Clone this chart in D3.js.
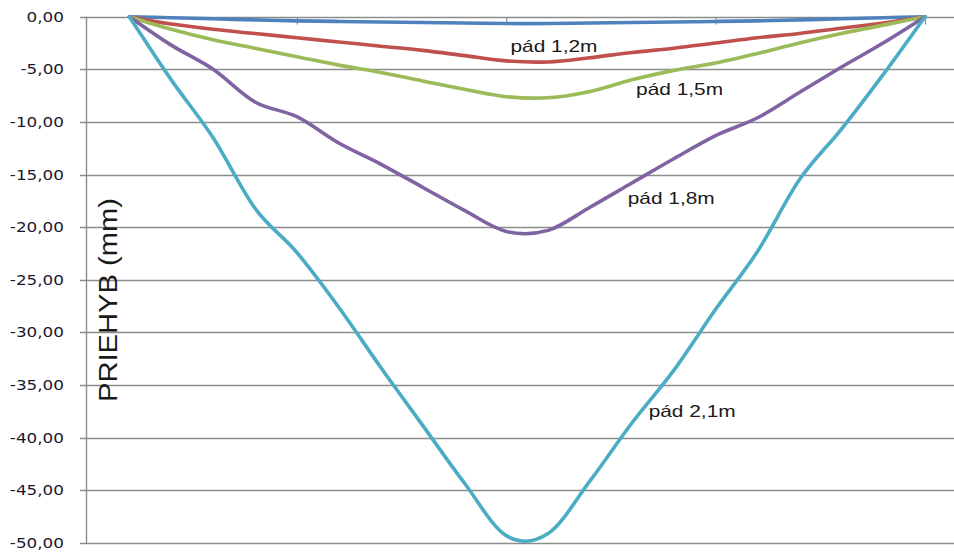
<!DOCTYPE html>
<html>
<head>
<meta charset="utf-8">
<script src="https://cdn.jsdelivr.net/npm/d3@7"></script>
<style>
  html, body { margin: 0; padding: 0; background: #ffffff; }
  svg { display: block; }
</style>
</head>
<body>
<div id="chart"></div>
<script>
// ---- data ----
const positions = d3.range(1, 21); // 20 measuring points along the span
const seriesNames = ["pád 0,9m", "pád 1,2m", "pád 1,5m", "pád 1,8m", "pád 2,1m"];
const seriesBlue   = [0, -0.1, -0.2, -0.3, -0.4, -0.45, -0.5, -0.55, -0.6, -0.65, -0.65, -0.6, -0.55, -0.5, -0.45, -0.4, -0.3, -0.2, -0.1, 0];
const seriesRed    = [0, -0.7, -1.2, -1.6, -2.0, -2.4, -2.8, -3.2, -3.7, -4.2, -4.3, -3.9, -3.4, -3.0, -2.5, -2.0, -1.6, -1.1, -0.6, 0];
const seriesGreen  = [0, -1.2, -2.2, -3.0, -3.8, -4.6, -5.3, -6.1, -6.9, -7.6, -7.7, -7.1, -6.0, -5.1, -4.4, -3.5, -2.5, -1.6, -0.8, 0];
const seriesPurple = [0, -2.7, -5.0, -8.1, -9.5, -12.0, -14.0, -16.2, -18.4, -20.4, -20.3, -18.1, -15.8, -13.5, -11.3, -9.6, -7.2, -4.8, -2.5, 0];
const seriesCyan   = [0, -6.0, -11.5, -18.2, -22.4, -27.6, -33.3, -38.8, -44.3, -49.3, -49.1, -44.1, -38.6, -33.6, -27.8, -22.3, -15.5, -10.7, -5.5, 0];
const yTicks = [0, -5, -10, -15, -20, -25, -30, -35, -40, -45, -50];
const yTickLabels = ["0,00", "-5,00", "-10,00", "-15,00", "-20,00", "-25,00", "-30,00", "-35,00", "-40,00", "-45,00", "-50,00"];
const xTicks = [0, 5, 10, 15, 20];
const yTitle = "PRIEHYB (mm)";
const labelTexts = ["pád 1,2m", "pád 1,5m", "pád 1,8m", "pád 2,1m"];

// ---- layout ----
const W = 954, H = 553;
const colors = ["#4F81BD", "#C0504D", "#9BBB59", "#8064A2", "#4BACC6"];
const allSeries = [seriesBlue, seriesRed, seriesGreen, seriesPurple, seriesCyan];

const svg = d3.select("#chart").append("svg")
  .attr("width", W).attr("height", H)
  .attr("viewBox", `0 0 ${W} ${H}`);

const x = d3.scaleLinear().domain([0, 20]).range([87.5, 925]);
const y = d3.scaleLinear().domain([-50, 0]).range([543, 16.7]);

const gridColor = "#8c8c8c";

// gridlines
svg.append("g").attr("class", "grid")
  .selectAll("line").data(yTicks).join("line")
  .attr("x1", 80).attr("x2", W)
  .attr("y1", d => Math.round(y(d)) + 0.5).attr("y2", d => Math.round(y(d)) + 0.5)
  .attr("stroke", gridColor).attr("stroke-width", 1.4);

// y axis line
svg.append("line")
  .attr("x1", 86.5).attr("x2", 86.5)
  .attr("y1", y(0)).attr("y2", y(-50) + 1)
  .attr("stroke", gridColor).attr("stroke-width", 1.4);

// y tick labels (axis)
const yAxis = d3.axisLeft(y).tickValues(yTicks)
  .tickFormat((d, i) => yTickLabels[i]).tickSize(0).tickPadding(0);
const gy = svg.append("g").attr("transform", "translate(64,0)").call(yAxis);
gy.select(".domain").remove();
gy.selectAll("text")
  .attr("x", 0)
  .attr("transform", "scale(1.2,1)")
  .attr("font-family", "DejaVu Sans, Verdana, sans-serif")
  .attr("font-size", 14)
  .attr("fill", "#1a1a2e");

// x axis tick marks on the zero line
const xAxis = d3.axisBottom(x).tickValues(xTicks.slice(1)).tickSize(7).tickFormat("");
const gx = svg.append("g").attr("transform", `translate(0,${Math.round(y(0)) + 0.5})`).call(xAxis);
gx.select(".domain").remove();
gx.selectAll("line").attr("stroke", gridColor).attr("stroke-width", 1.2);

// y axis title
svg.append("text")
  .attr("transform", "translate(117,300) rotate(-90)")
  .attr("text-anchor", "middle")
  .attr("font-family", "Liberation Sans, Arial, sans-serif")
  .attr("font-size", 25)
  .attr("fill", "#1a1a1a")
  .attr("textLength", 204)
  .attr("lengthAdjust", "spacingAndGlyphs")
  .text(yTitle);

// lines
const line = d3.line()
  .x((d, i) => x(positions[i]))
  .y(d => y(d))
  .curve(d3.curveCardinal.tension(0));

svg.append("g").selectAll("path").data(allSeries).join("path")
  .attr("d", d => line(d))
  .attr("fill", "none")
  .attr("stroke", (d, i) => colors[i])
  .attr("stroke-width", 3.6)
  .attr("stroke-linejoin", "round")
  .attr("stroke-linecap", "round");

// series labels (placed near the curves)
const labelPos = [
  { xv: 10.1, yv: -3.4 },
  { xv: 13.1, yv: -7.4 },
  { xv: 12.9, yv: -17.8 },
  { xv: 13.4, yv: -38.0 }
];
svg.append("g").selectAll("text").data(labelTexts).join("text")
  .attr("x", (d, i) => x(labelPos[i].xv))
  .attr("y", (d, i) => y(labelPos[i].yv))
  .attr("font-family", "Liberation Sans, Arial, sans-serif")
  .attr("font-size", 16.5)
  .attr("fill", "#1a1a1a")
  .attr("textLength", 87)
  .attr("lengthAdjust", "spacingAndGlyphs")
  .text(d => d);
</script>
</body>
</html>
